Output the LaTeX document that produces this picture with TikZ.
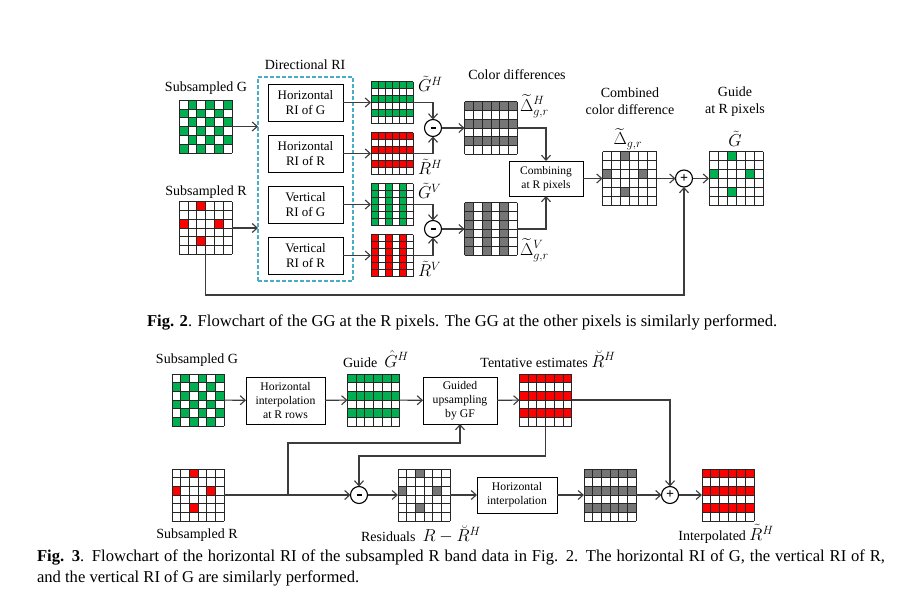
\documentclass[tikz,border=0pt]{standalone}
\usepackage{amsmath,amssymb}
\usepackage{fontspec}
\setmainfont{Liberation Serif}
\usetikzlibrary{arrows.meta,calc,positioning,backgrounds}

\definecolor{pixgreen}{RGB}{0,176,80}
\definecolor{pixred}{RGB}{255,0,0}
\definecolor{pixgray}{RGB}{118,118,118}
\definecolor{riblue}{RGB}{75,172,198}
\definecolor{wirecol}{RGB}{60,60,60}

% one coloured cell of a 6x6 grid: name, cell size, colour, row, column
\newcommand{\pix}[5]{\fill[#3] ($(#1.north west)+(#5*#2,#4*#2)$) rectangle ++(#2,#2);}
% the lines of a 6x6 grid: name, cell size
\newcommand{\gridlines}[2]{%
  \foreach \i in {0,...,6}{%
    \draw[gline] ($(#1.north west)+(\i*#2,0)$) -- ++(0,6*#2);
    \draw[gline] ($(#1.north west)+(0,\i*#2)$) -- ++(6*#2,0);}}
\newcommand{\minussign}{\rule{5pt}{2pt}}

\begin{document}
\begin{tikzpicture}[x=1pt,y=-1pt,>={Straight Barb[length=5pt,width=9pt]},
  every node/.style={inner sep=0pt,outer sep=0pt},
  pixgrid/.style={minimum size=6*#1pt},
  gline/.style={line width=0.7pt,black!85},
  procbox/.style={draw,line width=1pt,align=center,minimum width=75pt,minimum height=37pt,
    font=\fontsize{13}{14.5}\selectfont},
  smallbox/.style={procbox,font=\fontsize{11.7}{14}\selectfont},
  lbl/.style={font=\fontsize{14}{17}\selectfont,align=center},
  mlbl/.style={font=\fontsize{16.5}{18}\selectfont},
  op/.style={draw,circle,line width=1.1pt,minimum size=17pt,font=\fontsize{14}{14}\bfseries},
  wire/.style={line width=1.1pt,draw=wirecol}]

\useasboundingbox[fill=white] (0,0) rectangle (922,597);

%%% Fig. 2
\node[lbl] (diri) at (305,65) {Directional RI};
\node[lbl] (sgl) at (206,88) {Subsampled G};
\node[pixgrid=8.8] (sg) at (205.5,126.5) {};
\node[lbl] (srl) at (206,192) {Subsampled R};
\node[pixgrid=8.8] (sr) at (205.5,228) {};

\node[draw=riblue,dash pattern=on 4pt off 2pt,line width=1.6pt,minimum width=95pt,minimum height=204pt] (ri) at (305.5,179) {};
\node[procbox] (hg) at (305.5,102.5) {Horizontal\\RI of G};
\node[procbox,below=14pt of hg] (hr) {Horizontal\\RI of R};
\node[procbox,below=14pt of hr] (vg) {Vertical\\RI of G};
\node[procbox,below=14pt of vg] (vr) {Vertical\\RI of R};

\node[pixgrid=7,right=28pt of hg] (gh) {};
\node[pixgrid=7,right=28pt of hr] (rh) {};
\node[pixgrid=7,right=28pt of vg] (gv) {};
\node[pixgrid=7,right=28pt of vr] (rv) {};
\node[mlbl,anchor=west] at (418,84) {$\tilde{G}^H$};
\node[mlbl,anchor=west] at (418,167) {$\tilde{R}^H$};
\node[mlbl,anchor=west] at (418,191) {$\tilde{G}^V$};
\node[mlbl,anchor=west] at (418,269) {$\tilde{R}^V$};

\node[op] (m1) at (433,128) {\minussign};
\node[op] (m2) at (433,229) {\minussign};

\node[lbl] (cdl) at (517,75) {Color differences};
\node[pixgrid=8.8] (dh) at (491,128) {};
\node[pixgrid=8.8] (dv) at (491,229) {};
\node[mlbl,anchor=west] at (520,106) {$\widetilde{\Delta}^H_{g,r}$};
\node[mlbl,anchor=west] at (520,250) {$\widetilde{\Delta}^V_{g,r}$};

\node[procbox,minimum width=74pt,minimum height=35pt,font=\fontsize{11.5}{13.5}\selectfont] (comb) at (546,178.5) {Combining\\at R pixels};
\node[pixgrid=9] (dc) at (629.5,178.5) {};
\node[lbl] at (630,101.5) {Combined\\color difference};
\node[mlbl] at (628,139) {$\widetilde{\Delta}_{g,r}$};
\node[op] (p1) at (684,178.5) {+};
\node[pixgrid=9] (gg) at (736,178.5) {};
\node[lbl] at (735,101.5) {Guide\\at R pixels};
\node[mlbl] at (735,139) {$\tilde{G}$};

% cells
\foreach \row in {0,...,5} \foreach \col in {0,...,5} {%
  \pgfmathtruncatemacro\odd{mod(\row+\col,2)}
  \ifnum\odd=1 \pix{sg}{8.8}{pixgreen}{\row}{\col}\fi}
\foreach \row/\col in {0/2,2/0,2/4,4/2} {%
  \pix{sr}{8.8}{pixred}{\row}{\col}
  \pix{dc}{9}{pixgray}{\row}{\col}
  \pix{gg}{9}{pixgreen}{\row}{\col}}
\foreach \row in {0,2,4} \foreach \col in {0,...,5} {%
  \pix{gh}{7}{pixgreen}{\row}{\col}
  \pix{rh}{7}{pixred}{\row}{\col}
  \pix{gv}{7}{pixgreen}{\col}{\row}
  \pix{rv}{7}{pixred}{\col}{\row}
  \pix{dh}{8.8}{pixgray}{\row}{\col}
  \pix{dv}{8.8}{pixgray}{\col}{\row}}
\gridlines{sg}{8.8} \gridlines{sr}{8.8}
\gridlines{gh}{7} \gridlines{rh}{7} \gridlines{gv}{7} \gridlines{rv}{7}
\gridlines{dh}{8.8} \gridlines{dv}{8.8}
\gridlines{dc}{9} \gridlines{gg}{9}

% connectors
\draw[wire,->] (sg.east) -- (sg.east -| ri.west);
\draw[wire,->] (sr.east) -- (sr.east -| ri.west);
\foreach \a/\b in {hg/gh,hr/rh,vg/gv,vr/rv} \draw[wire,->] (\a) -- (\b);
\draw[wire,->] (gh.east) -| (m1.north);
\draw[wire,->] (rh.east) -| (m1.south);
\draw[wire,->] (gv.east) -| (m2.north);
\draw[wire,->] (rv.east) -| (m2.south);
\draw[wire,->] (m1) -- (dh);
\draw[wire,->] (m2) -- (dv);
\draw[wire,->] (dh.east) -| (comb.north);
\draw[wire,->] (dv.east) -| (comb.south);
\draw[wire,->] (comb) -- (dc);
\draw[wire,->] (dc) -- (p1);
\draw[wire,->] (p1) -- (gg);
\coordinate (fb) at (205.5,295);
\draw[wire,->] (sr.south) -- (fb) -| (p1.south);

\node[anchor=west,font=\fontsize{16.6}{20}\selectfont] (cap2) at (147,322)
  {\textbf{Fig. 2}. Flowchart of the GG at the R pixels. The GG at the other pixels is similarly performed.};

%%% Fig. 3
\node[lbl] (bsgl) at (197,360) {Subsampled G};
\node[pixgrid=8.7] (bsg) at (198,400) {};
\node[smallbox,minimum width=79pt,minimum height=47pt] (hint) at (285.5,400.5) {Horizontal\\interpolation\\at R rows};
\node[pixgrid=8.7] (guide) at (373.5,400) {};
\node[lbl] at (376,359) {Guide\ \ \fontsize{16.5}{18}\selectfont$\hat{G}^H$};
\node[smallbox,minimum width=74pt,minimum height=47pt] (gf) at (460,400.5) {Guided\\upsampling\\by GF};
\node[pixgrid=8.7] (tent) at (545.5,400) {};
\node[lbl] at (548,359) {Tentative estimates \fontsize{16.5}{18}\selectfont$\breve{R}^H$};

\node[pixgrid=8.7] (bsr) at (198,495) {};
\node[lbl] at (197,535) {Subsampled R};
\node[op] (m3) at (359,495) {\minussign};
\node[pixgrid=8.7] (res) at (424,495) {};
\node[lbl] at (421,534) {Residuals\ \ \fontsize{16.5}{18}\selectfont$R-\breve{R}^H$};
\node[smallbox,minimum width=80pt,minimum height=36pt] (hint2) at (517,495) {Horizontal\\interpolation};
\node[pixgrid=8.7] (hz) at (610,495) {};
\node[op] (p2) at (670,495) {+};
\node[pixgrid=8.7] (out) at (728,495) {};
\node[lbl] at (726,534) {Interpolated \fontsize{16.5}{18}\selectfont$\tilde{R}^H$};

\foreach \row in {0,...,5} \foreach \col in {0,...,5} {%
  \pgfmathtruncatemacro\odd{mod(\row+\col,2)}
  \ifnum\odd=1 \pix{bsg}{8.7}{pixgreen}{\row}{\col}\fi}
\foreach \row in {0,2,4} \foreach \col in {0,...,5} {%
  \pix{guide}{8.7}{pixgreen}{\row}{\col}
  \pix{tent}{8.7}{pixred}{\row}{\col}
  \pix{hz}{8.7}{pixgray}{\row}{\col}
  \pix{out}{8.7}{pixred}{\row}{\col}}
\foreach \row/\col in {0/2,2/0,2/4,4/2} {%
  \pix{bsr}{8.7}{pixred}{\row}{\col}
  \pix{res}{8.7}{pixgray}{\row}{\col}}
\foreach \g in {bsg,guide,tent,bsr,res,hz,out} {\gridlines{\g}{8.7}}

\draw[wire,->] (bsg) -- (hint);
\draw[wire,->] (hint) -- (guide);
\draw[wire,->] (guide) -- (gf);
\draw[wire,->] (gf) -- (tent);
\draw[wire,->] (tent.east) -| (p2.north);
\coordinate (tb) at (545.5,456);
\draw[wire,->] (tent.south) -- (tb) -| (m3.north);
\draw[wire,->] (bsr) -- (m3);
\coordinate (br) at (288,495);
\coordinate (bu) at (288,443);
\draw[wire,->] (br) -- (bu) -| (gf.south);
\draw[wire,->] (m3) -- (res);
\draw[wire,->] (res) -- (hint2);
\draw[wire,->] (hint2) -- (hz);
\draw[wire,->] (hz) -- (p2);
\draw[wire,->] (p2) -- (out);

\node[anchor=west] (cap3) at (37,567.5) {\parbox{848pt}{\fontsize{16.6}{21}\selectfont
  \textbf{Fig. 3}. Flowchart of the horizontal RI of the subsampled R band data in Fig. 2. The horizontal RI of G, the vertical RI of R,\linebreak
  and the vertical RI of G are similarly performed.}};
\end{tikzpicture}
\end{document}
